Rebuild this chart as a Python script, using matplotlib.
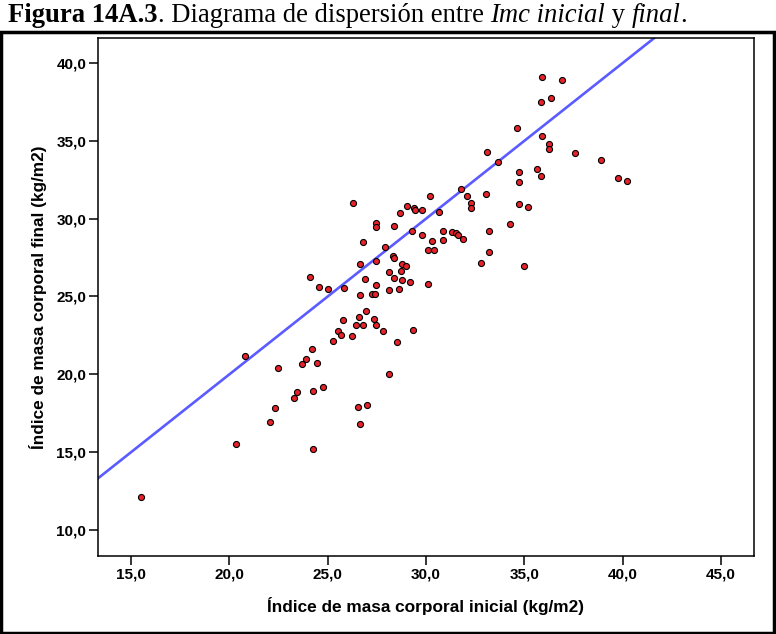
import matplotlib
matplotlib.use("Agg")
import matplotlib.pyplot as plt
from matplotlib.patches import Rectangle
from matplotlib.lines import Line2D
from matplotlib.ticker import FuncFormatter


### DATA ###

imc_inicial = [
    26.29, 30.19, 31.80, 32.06, 33.06, 32.26, 32.28, 29.02, 29.41, 29.45,
    29.80, 28.65, 30.68, 27.46, 27.43, 28.38, 29.28, 29.80, 30.85, 31.31,
    31.52, 31.60, 31.90, 33.19, 30.85, 30.31, 26.80, 27.92, 30.11, 30.40,
    33.19, 28.31, 28.38, 27.46, 26.66, 28.80, 29.00, 32.77, 28.09, 28.73,
    24.09, 28.38, 26.87, 28.77, 29.18, 24.55, 25.01, 25.83, 27.46, 30.12,
    28.62, 28.09, 27.27, 27.40, 26.65, 26.95, 26.58, 25.78, 27.34, 26.44,
    26.79, 27.46, 25.51, 25.68, 26.23, 27.83, 29.34, 25.26, 28.51, 24.21,
    35.91, 36.89, 35.84, 36.36, 34.63, 35.91, 36.26, 36.26, 37.55, 33.12,
    33.65, 38.91, 34.72, 35.64, 35.84, 34.74, 39.76, 40.23, 34.72, 35.16,
    34.29, 35.00,
    20.80, 22.48, 23.87, 23.71, 24.45, 28.09, 23.44, 24.26, 24.77, 23.31,
    22.32, 26.53, 27.00, 22.07, 26.66, 20.36, 24.27, 15.49,
]

imc_final = [
    31.03, 31.44, 31.89, 31.48, 31.59, 31.01, 30.67, 30.80, 30.71, 30.56,
    30.56, 30.37, 30.41, 29.74, 29.45, 29.51, 29.23, 28.95, 29.19, 29.13,
    29.08, 28.93, 28.72, 29.21, 28.61, 28.57, 28.48, 28.16, 27.97, 27.97,
    27.88, 27.58, 27.46, 27.30, 27.09, 27.07, 26.96, 27.14, 26.60, 26.62,
    26.27, 26.21, 26.11, 26.06, 25.93, 25.61, 25.50, 25.57, 25.72, 25.79,
    25.47, 25.40, 25.18, 25.18, 25.08, 24.07, 23.69, 23.51, 23.58, 23.15,
    23.15, 23.17, 22.77, 22.51, 22.49, 22.79, 22.83, 22.13, 22.10, 21.61,
    39.08, 38.91, 37.50, 37.77, 35.83, 35.31, 34.82, 34.48, 34.24, 34.30,
    33.62, 33.77, 33.02, 33.19, 32.76, 32.36, 32.63, 32.40, 30.92, 30.77,
    29.66, 26.96,
    21.20, 20.43, 20.99, 20.67, 20.71, 20.01, 18.87, 18.95, 19.17, 18.46,
    17.86, 17.91, 18.05, 16.92, 16.81, 15.55, 15.19, 12.11,
]

x_ticks = [15, 20, 25, 30, 35, 40, 45]
y_ticks = [10, 15, 20, 25, 30, 35, 40]

# title pieces: (text, weight, style)
title_parts = [
    ("Figura 14A.3", "bold", "normal"),
    (". Diagrama de dispersión entre ", "normal", "normal"),
    ("Imc inicial", "normal", "italic"),
    (" y ", "normal", "normal"),
    ("final", "normal", "italic"),
    (".", "normal", "normal"),
]


### PLOT ###

plt.rcParams["font.family"] = "Liberation Sans"

fig = plt.figure(figsize=(7.76, 6.34), dpi=100)
ax = fig.add_axes([0.1263, 0.123, 0.845, 0.817])

# reference line y = x
ax.axline((0, 0), slope=1, color="#5b5bff", lw=1.9, zorder=2)

ax.scatter(imc_inicial, imc_final, s=19, color="#e8222b",
           edgecolors="black", linewidths=0.8, zorder=3)

ax.set_xlim(13.32, 46.66)
ax.set_ylim(8.33, 41.6)
ax.set_xticks(x_ticks)
ax.set_yticks(y_ticks)

fmt = FuncFormatter(lambda v, p: f"{v:.1f}".replace(".", ","))
ax.xaxis.set_major_formatter(fmt)
ax.yaxis.set_major_formatter(fmt)

ax.tick_params(direction="out", length=6.5, width=1.1, labelsize=11, pad=2)
for lab in ax.get_xticklabels() + ax.get_yticklabels():
    lab.set_fontweight("bold")
for sp in ax.spines.values():
    sp.set_linewidth(1.1)

ax.set_xlabel("Índice de masa corporal inicial (kg/m2)", fontsize=12.4,
              fontweight="bold", labelpad=11)
ax.set_ylabel("Índice de masa corporal final (kg/m2)", fontsize=12.4,
              fontweight="bold", labelpad=7)

# title made of pieces, placed one after the other
renderer = fig.canvas.get_renderer()
x = 8
for txt, weight, style in title_parts:
    t = fig.text(x / 776, 1 - 22 / 634, txt, fontsize=19.2, family="Liberation Serif",
                 fontweight=weight, fontstyle=style, ha="left", va="baseline")
    x += t.get_window_extent(renderer).width

fig.add_artist(Line2D([0, 1], [1 - 32 / 634, 1 - 32 / 634], color="black", lw=2.2,
                      transform=fig.transFigure))
fig.add_artist(Rectangle((0.001, 0.002), 0.997, 1 - 32 / 634 - 0.002, fill=False,
                         edgecolor="black", lw=2.5, transform=fig.transFigure))

fig.savefig("out.png", dpi=100)
